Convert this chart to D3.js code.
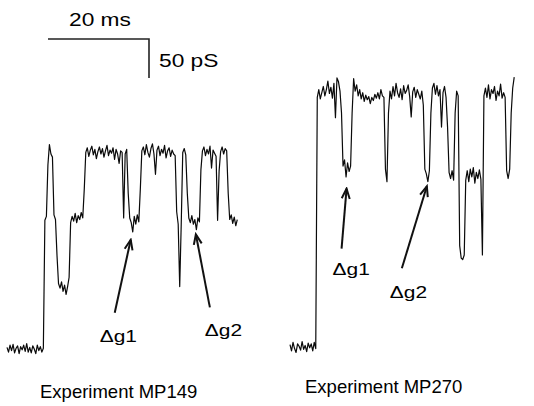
<!DOCTYPE html>
<html>
<head>
<meta charset="utf-8">
<script src="https://cdn.jsdelivr.net/npm/d3@7"></script>
<style>
  body { margin: 0; background: #fff; }
  svg { display: block; }
  text { font-family: "Liberation Sans", Arial, Helvetica, sans-serif; fill: #000; }
</style>
</head>
<body>
<svg id="chart" width="534" height="406"></svg>
<script>
const sampleMs = 0.3;

// conductance traces (pS above closed level)
const traceMP149 = [
  2, -4, 5, -2, 6, -5, 1, 4, -6, 3, -1, 5, -3, 7, -4, 2, -5, 4, 0, -6, 5, -2, 3, -4, 1,
  165, 170, 236, 262, 250, 246, 172, 166, 120, 84, 78, 86, 74, 82, 70, 80, 92,
  162, 170, 164, 174, 162, 171, 166, 175, 168, 205, 252,
  258, 247, 255, 260, 249, 256, 244, 253, 259, 250, 257, 246, 254, 261, 248, 255, 251, 258, 243, 256, 250, 238, 254,
  252, 168, 250, 256, 200, 168, 162, 150, 170, 160, 172, 163, 205, 254,
  259, 249, 262, 252, 246, 257, 263, 250, 224, 255, 260, 248, 256, 251, 261, 245, 254, 258, 247, 255, 250,
  248, 176, 160, 80, 160, 252, 257, 249, 200, 168,
  162, 171, 160, 166, 153, 168, 163, 230, 254,
  259, 248, 256, 250, 260, 232, 255, 251, 247,
  165, 228, 253, 259, 250, 257, 254, 200, 166, 172, 161, 169, 158, 166
];

const traceMP270 = [
  3, -5, 6, -2, -7, 4, 1, -4, 7, -3, 2, -6, 5, -1, 4, -5, 6, -2,
  320, 330,
  318, 326, 334, 322, 330, 341, 325, 333, 319, 338, 294, 345, 340, 328,
  300, 232, 240, 218, 236, 225, 232, 300, 344,
  328, 336, 322, 330, 318, 326, 315, 323, 317, 321, 312, 320, 316, 324, 319, 326, 318, 330, 322,
  320, 228, 212, 300, 328,
  318, 334, 322, 338, 326, 320, 331, 317, 335, 325, 329, 336, 321, 295, 327, 333, 320, 330, 324, 318, 328,
  310, 228, 222, 212, 226, 300, 332,
  338, 324, 335, 322, 330, 282, 326, 334, 320,
  282, 224, 216, 226, 214, 300, 328, 322, 130, 114, 112, 118, 214,
  226, 212, 228, 218, 230, 210, 224, 216, 227, 215, 118, 322, 332,
  320, 336, 318, 330, 325, 334, 316, 328, 322, 337, 319, 326,
  320, 226, 216, 228, 300, 332, 346
];

const experimentLabels = ["Experiment MP149", "Experiment MP270"];
const arrowLabels = ["\u0394g1", "\u0394g2"];

// sub-conductance events pointed at (time ms, conductance pS)
const eventMsMP149 = [24.5, 37.4];
const eventPsMP149 = [140, 147];
const eventMsMP270 = [11.2, 27.1];
const eventPsMP270 = [203, 206];

// scale bar
const scaleBarMs = 20;
const scaleBarPs = 50;

const svg = d3.select("#chart");

// one scale pair per recording, 20 ms = 101 px, 50 pS = 39 px
const x149 = d3.scaleLinear().domain([0, 20]).range([7, 108]);
const y149 = d3.scaleLinear().domain([0, 50]).range([349, 310]);
const x270 = d3.scaleLinear().domain([0, 20]).range([290, 391]);
const y270 = d3.scaleLinear().domain([0, 50]).range([347, 308]);

// open arrow head
svg.append("defs").append("marker")
    .attr("id", "arrow")
    .attr("viewBox", "-12 -6 14 12")
    .attr("refX", 0)
    .attr("refY", 0)
    .attr("markerUnits", "userSpaceOnUse")
    .attr("markerWidth", 14)
    .attr("markerHeight", 12)
    .attr("orient", "auto")
    .append("path")
    .attr("d", "M-10,-4L0,0L-10,4")
    .style("fill", "none")
    .style("stroke", "#111")
    .style("stroke-width", 2);

function drawTrace(values, x, y) {
    const line = d3.line()
        .x((d, i) => x(i * sampleMs))
        .y(d => y(d));

    svg.append("path")
        .datum(values)
        .attr("d", line)
        .style("fill", "none")
        .style("stroke", "#0a0a0a")
        .style("stroke-width", 1.2)
        .style("stroke-linejoin", "round");
}

// the figure's lettering is a little wider than Arial, stretch it
function addText(str, px, py, size, stretch) {
    svg.append("text")
        .attr("transform", `translate(${px},${py}) scale(${stretch},1)`)
        .style("font-size", size + "px")
        .text(str);
}

// arrows: offsets of tail and label from the arrow tip (px)
function drawArrows(times, levels, x, y, offsets) {
    times.forEach((t, i) => {
        const hx = x(t), hy = y(levels[i]);
        const o = offsets[i];
        svg.append("line")
            .attr("x1", hx + o[0]).attr("y1", hy + o[1])
            .attr("x2", hx).attr("y2", hy)
            .style("stroke", "#111")
            .style("stroke-width", 2)
            .attr("marker-end", "url(#arrow)");
        addText(arrowLabels[i], hx + o[2], hy + o[3], 17, 1.23);
    });
}

drawTrace(traceMP149, x149, y149);
drawTrace(traceMP270, x270, y270);

drawArrows(eventMsMP149, eventPsMP149, x149, y149, [[-16, 73, -31, 102], [14, 73, 9, 102]]);
drawArrows(eventMsMP270, eventPsMP270, x270, y270, [[-5, 60, -14, 86], [-25, 82, -37, 112]]);

// scale bar, sized from the trace scales
const barW = x149(scaleBarMs) - x149(0);
const barH = y149(0) - y149(scaleBarPs);
const cornerX = 149, cornerY = 39;
svg.append("path")
    .attr("d", `M${cornerX - barW},${cornerY}H${cornerX}V${cornerY + barH}`)
    .style("fill", "none")
    .style("stroke", "#222")
    .style("stroke-width", 1.6);
addText(scaleBarMs + " ms", 69, 26, 18.5, 1.23);
addText(scaleBarPs + " pS", 159, 67, 18.5, 1.23);

// experiment captions
addText(experimentLabels[0], 40, 398, 18.5, 1.0);
addText(experimentLabels[1], 305, 393, 18.5, 1.0);
</script>
</body>
</html>
